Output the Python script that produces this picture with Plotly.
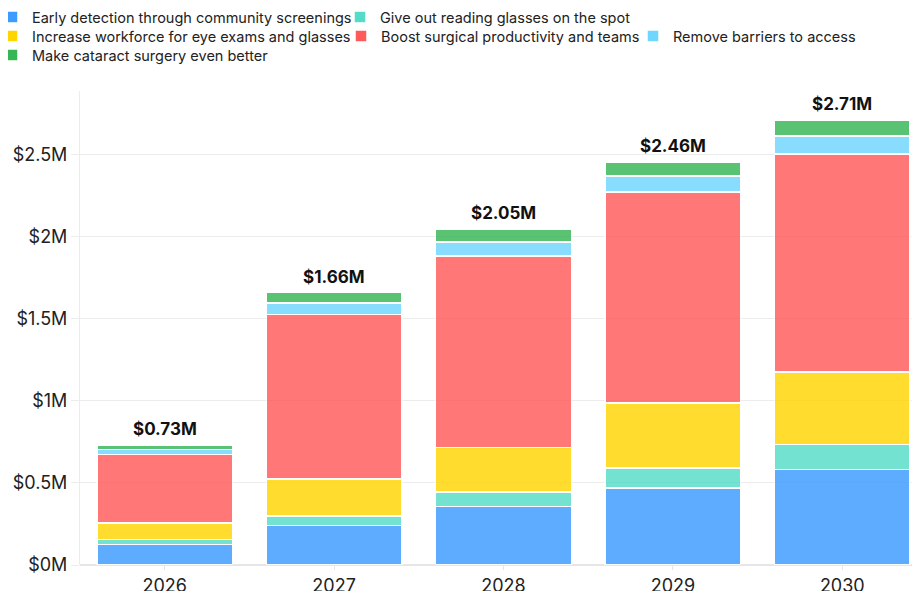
import plotly.graph_objects as go

years = ["2026", "2027", "2028", "2029", "2030"]
series_names = [
    "Early detection through community screenings",
    "Give out reading glasses on the spot",
    "Increase workforce for eye exams and glasses",
    "Boost surgical productivity and teams",
    "Remove barriers to access",
    "Make cataract surgery even better",
]
early_detection = [0.125, 0.24, 0.356, 0.47, 0.583]
reading_glasses = [0.03, 0.06, 0.089, 0.12, 0.153]
workforce = [0.10, 0.224, 0.27, 0.398, 0.441]
surgical = [0.42, 1.002, 1.169, 1.286, 1.329]
barriers = [0.03, 0.07, 0.086, 0.098, 0.11]
cataract = [0.025, 0.064, 0.077, 0.085, 0.097]
series_values = [early_detection, reading_glasses, workforce, surgical, barriers, cataract]
colors = ["#3b9bff", "#55dcc8", "#ffd500", "#ff5a5a", "#6fd6ff", "#35b755"]

W, H = 920, 591
ML, MR, MT, MB = 72, 1, 83, 34
PW, PH = W - ML - MR, H - MT - MB
# legend entry anchor positions (pixels in figure): left of entry, vertical centre
legend_pos = [(-16, 9), (332, 9), (-16, 28), (333, 28), (625, 28), (-16, 47)]

fig = go.Figure()
legend_layouts = {}
for i, (name, vals, col) in enumerate(zip(series_names, series_values, colors)):
    key = "legend" if i == 0 else f"legend{i + 1}"
    fig.add_trace(go.Bar(
        x=years, y=vals, name=name, legend=key, showlegend=True,
        marker=dict(color=col, opacity=0.82, line=dict(color="white", width=1.5)),
    ))
    px, py = legend_pos[i]
    legend_layouts[key] = dict(
        orientation="h", xref="paper", yref="paper",
        x=(px - ML) / PW, y=(H - MB - py) / PH, xanchor="left", yanchor="middle",
        bgcolor="rgba(0,0,0,0)", font=dict(size=14.5, color="#222"),
        itemwidth=30, itemclick=False, itemdoubleclick=False,
    )

totals = [sum(v[i] for v in series_values) for i in range(len(years))]
for idx, tot in enumerate(totals):
    fig.add_annotation(x=idx, y=tot, xref="x", yref="y",
                       text=f"<b>${tot:.2f}M</b>", showarrow=False,
                       yanchor="bottom", yshift=4,
                       font=dict(family="Inter, sans-serif", size=17, color="#111"))

fig.update_layout(
    showlegend=True,
    barmode="stack",
    bargap=0.2,
    width=W, height=H,
    margin=dict(l=ML, r=MR, t=MT, b=MB, autoexpand=False),
    plot_bgcolor="white", paper_bgcolor="white",
    font=dict(family="Inter, sans-serif", color="#222"),
    xaxis=dict(type="category", range=[-0.5, 4.5], showgrid=False, showline=False,
               ticks="outside", ticklen=4, tickcolor="#e6e6e6",
               tickfont=dict(size=18, color="#222"), automargin=False),
    yaxis=dict(range=[0, 2.89], dtick=0.5, tickprefix="$", ticksuffix="M",
               showgrid=True, gridcolor="#ececec", gridwidth=1,
               showline=True, linecolor="#ececec", linewidth=1,
               ticks="outside", ticklen=8, tickcolor="#ececec",
               zeroline=True, zerolinecolor="#e6e6e6", zerolinewidth=1.5,
               tickfont=dict(size=18, color="#222"), automargin=False),
    **legend_layouts,
)

fig.write_html("out.html")
